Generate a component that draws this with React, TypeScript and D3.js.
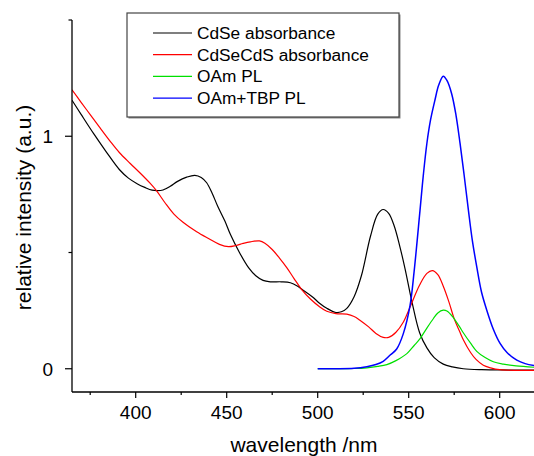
import React from "react";
import * as d3 from "d3";

const cdseWl = [365, 370, 377, 384, 391, 396, 401, 405, 409, 412, 415, 419, 423, 428, 432.5, 436, 439, 442, 445, 449, 452, 457, 462, 466, 470, 474, 480, 485, 489, 492, 497, 501, 505, 510, 513, 516, 520, 524, 529, 533, 536, 539, 542, 545, 548, 552, 556, 560, 564, 569, 574, 580, 590, 600, 610, 620];
const cdseAbs = [1.155, 1.094, 1.01, 0.931, 0.857, 0.82, 0.795, 0.78, 0.768, 0.766, 0.769, 0.785, 0.806, 0.824, 0.832, 0.823, 0.8, 0.755, 0.7, 0.635, 0.578, 0.5, 0.435, 0.4, 0.38, 0.374, 0.374, 0.37, 0.355, 0.338, 0.31, 0.282, 0.26, 0.242, 0.245, 0.26, 0.31, 0.4, 0.57, 0.665, 0.685, 0.668, 0.615, 0.53, 0.43, 0.28, 0.155, 0.09, 0.048, 0.02, 0.008, 0.0, -0.004, -0.005, -0.006, -0.006];

const cdsecdsWl = [365, 370, 375, 380, 386, 391, 397, 402, 408, 411.5, 416, 421, 426, 433.5, 440, 446, 451, 455, 459, 463, 468, 471, 475, 479, 483, 487, 491, 496, 501, 505, 510, 516, 520, 523, 528, 532, 536, 539, 543, 547, 551, 556, 560, 563, 566, 569, 572, 575, 578, 580, 584, 587, 591, 595, 600, 610, 620];
const cdsecdsAbs = [1.2, 1.146, 1.093, 1.04, 0.978, 0.93, 0.883, 0.845, 0.797, 0.765, 0.715, 0.665, 0.63, 0.589, 0.56, 0.535, 0.525, 0.53, 0.539, 0.546, 0.55, 0.54, 0.513, 0.476, 0.435, 0.388, 0.343, 0.3, 0.267, 0.247, 0.237, 0.235, 0.225, 0.21, 0.18, 0.152, 0.135, 0.135, 0.157, 0.2, 0.27, 0.36, 0.41, 0.422, 0.405, 0.355, 0.29, 0.215, 0.16, 0.125, 0.07, 0.04, 0.015, 0.004, -0.004, -0.007, -0.007];

const oamWl = [500, 510, 520, 527, 533, 538, 543, 549, 553, 556, 560, 563.5, 566, 569, 571, 574.5, 578, 580, 584, 587.4, 592, 596.5, 602, 609, 620];
const oamPL = [0, 0, 0.001, 0.004, 0.01, 0.018, 0.035, 0.065, 0.1, 0.127, 0.175, 0.215, 0.24, 0.252, 0.248, 0.22, 0.18, 0.155, 0.11, 0.075, 0.048, 0.03, 0.02, 0.012, 0.006];

const tbpWl = [500, 510, 520, 527, 532, 536, 540, 543.4, 547, 550.7, 553, 556.2, 558, 560, 562, 564.4, 566.5, 569, 571, 573.6, 576, 578.2, 580.5, 582.8, 585, 587.4, 590, 592.9, 596.5, 600.2, 604, 609.4, 614, 620];
const tbpPL = [0, 0, 0.002, 0.009, 0.018, 0.032, 0.06, 0.085, 0.15, 0.27, 0.42, 0.68, 0.83, 0.97, 1.07, 1.155, 1.22, 1.258, 1.24, 1.183, 1.09, 0.97, 0.83, 0.682, 0.55, 0.438, 0.33, 0.252, 0.17, 0.109, 0.07, 0.037, 0.022, 0.012];

const seriesNames = ["CdSe absorbance", "CdSeCdS absorbance", "OAm PL", "OAm+TBP PL"];
const seriesColors = ["#000000", "#ff0000", "#00e000", "#0000ff"];
const xMajorTicks = [400, 450, 500, 550, 600];
const xMinorTicks = [375, 425, 475, 525, 575];
const yMajorTicks = [0, 1];
const yMinorTicks = [0.5, 1.5];

const W = 534;
const H = 456;
const left = 72;
const top = 20;
const bottom = 392;

export default function App() {
  const x = d3.scaleLinear().domain([365, 620]).range([left, left + 255 * 1.82]);
  const y = d3.scaleLinear().domain([-0.1, 1.5]).range([bottom, top]);
  const line = d3
    .line<[number, number]>()
    .x((d) => x(d[0]))
    .y((d) => y(d[1]))
    .curve(d3.curveCatmullRom.alpha(0.5));

  const series = [
    { wl: cdseWl, v: cdseAbs },
    { wl: cdsecdsWl, v: cdsecdsAbs },
    { wl: oamWl, v: oamPL },
    { wl: tbpWl, v: tbpPL },
  ];

  const font = "Arial, 'Liberation Sans', sans-serif";
  const legendX = 127;
  const legendY = 13;

  return (
    <div style={{ position: "absolute", left: 0, top: 0 }}>
      <svg width={W} height={H} style={{ display: "block", background: "#fff" }}>
        <defs>
          <clipPath id="plot">
            <rect x={left} y={top} width={W - left} height={bottom - top} />
          </clipPath>
        </defs>
        <g clipPath="url(#plot)">
          {series.map((s, i) => (
            <path
              key={i}
              d={line(s.wl.map((w, j) => [w, s.v[j]] as [number, number])) || ""}
              fill="none"
              stroke={seriesColors[i]}
              strokeWidth={i === 3 ? 1.5 : 1.2}
            />
          ))}
        </g>
        {/* axes */}
        <line x1={left} x2={left} y1={top} y2={bottom} stroke="#000" strokeWidth={1.3} />
        <line x1={left} x2={W} y1={bottom} y2={bottom} stroke="#000" strokeWidth={1.3} />
        {xMajorTicks.map((t) => (
          <g key={"xm" + t}>
            <line x1={x(t)} x2={x(t)} y1={bottom} y2={bottom + 6} stroke="#000" strokeWidth={1.2} />
            <text x={x(t)} y={419} textAnchor="middle" fontFamily={font} fontSize={19} fill="#000">
              {t}
            </text>
          </g>
        ))}
        {xMinorTicks.map((t) => (
          <line key={"xn" + t} x1={x(t)} x2={x(t)} y1={bottom} y2={bottom + 3} stroke="#000" strokeWidth={1.2} />
        ))}
        {yMajorTicks.map((t) => (
          <g key={"ym" + t}>
            <line x1={left - 7} x2={left} y1={y(t)} y2={y(t)} stroke="#000" strokeWidth={1.2} />
            <text x={53} y={y(t) + 7} textAnchor="end" fontFamily={font} fontSize={19} fill="#000">
              {t}
            </text>
          </g>
        ))}
        {yMinorTicks.map((t) => (
          <line key={"yn" + t} x1={left - 3.5} x2={left} y1={y(t)} y2={y(t)} stroke="#000" strokeWidth={1.2} />
        ))}
        <text x={304} y={452} textAnchor="middle" fontFamily={font} fontSize={21} fill="#000">
          wavelength /nm
        </text>
        <text
          transform={`translate(31,${207.5}) rotate(-90)`}
          textAnchor="middle"
          fontFamily={font}
          fontSize={21}
          fill="#000"
        >
          relative intensity (a.u.)
        </text>
        {/* legend */}
        <rect x={legendX + 1.5} y={legendY + 1.5} width={272} height={104} fill="#888" />
        <rect x={legendX} y={legendY} width={272} height={104} fill="#fff" stroke="#444" strokeWidth={1.2} />
        {seriesNames.map((n, i) => {
          const cy = 33 + i * 21.7;
          return (
            <g key={n}>
              <line x1={153} x2={192} y1={cy} y2={cy} stroke={seriesColors[i]} strokeWidth={1.2} />
              <text x={197} y={cy + 6} fontFamily={font} fontSize={17.3} fill="#000">
                {n}
              </text>
            </g>
          );
        })}
      </svg>
    </div>
  );
}
